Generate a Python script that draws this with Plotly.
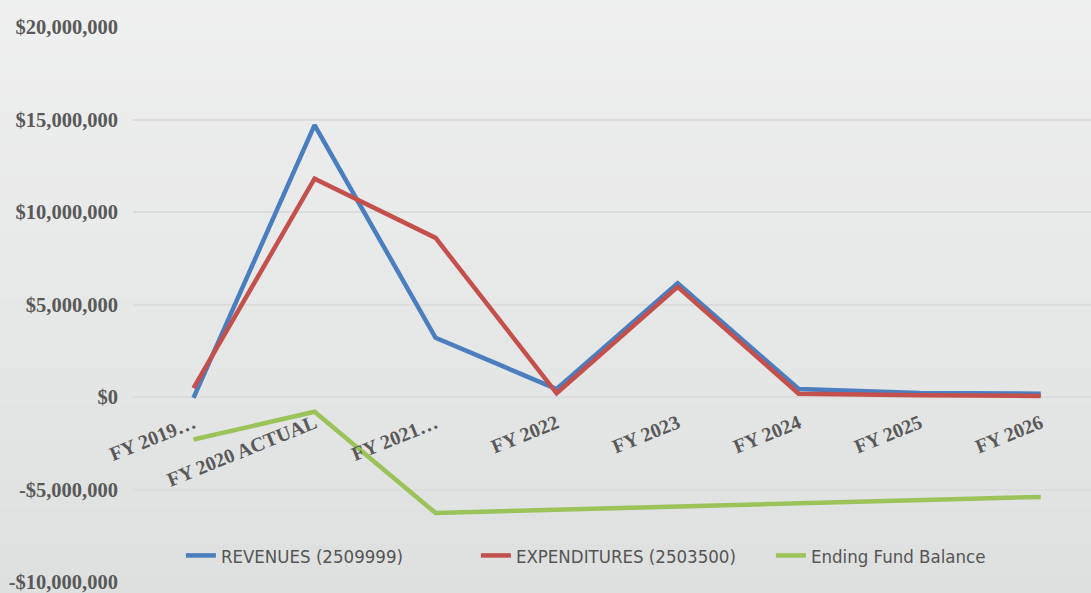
import plotly.graph_objects as go

# Fiscal years on the category axis
years = ["FY 2019…", "FY 2020 ACTUAL", "FY 2021…", "FY 2022", "FY 2023",
         "FY 2024", "FY 2025", "FY 2026"]

# Series values (dollars)
revenues = [-50_000, 14_700_000, 3_200_000, 430_000, 6_150_000, 430_000, 220_000, 180_000]
expenditures = [480_000, 11_800_000, 8_600_000, 200_000, 5_950_000, 180_000, 100_000, 60_000]
ending_balance = [-2_300_000, -800_000, -6_270_000, -6_100_000, -5_900_000, -5_700_000,
                  -5_530_000, -5_400_000]

# Value axis ticks
y_ticks = [-10_000_000, -5_000_000, 0, 5_000_000, 10_000_000, 15_000_000, 20_000_000]
y_tick_text = ["-$10,000,000", "-$5,000,000", "$0", "$5,000,000", "$10,000,000",
               "$15,000,000", "$20,000,000"]

series_names = ["REVENUES (2509999)", "EXPENDITURES (2503500)", "Ending Fund Balance"]
colors = ["#4a7ebf", "#c4504d", "#9bc35a"]

y_min, y_max = y_ticks[0], y_ticks[-1]

fig = go.Figure()
for name, vals, col in zip(series_names, [revenues, expenditures, ending_balance], colors):
    fig.add_trace(go.Scatter(
        x=years, y=vals, name=name, mode="lines",
        line=dict(color=col, width=4.5),
    ))

# Soft vertical background gradient built from thin bands
bands = 40
top_rgb = (240, 240, 240)
bot_rgb = (220, 222, 222)
shapes = []
for i in range(bands):
    t = i / (bands - 1)
    r = round(top_rgb[0] + (bot_rgb[0] - top_rgb[0]) * t)
    g = round(top_rgb[1] + (bot_rgb[1] - top_rgb[1]) * t)
    b = round(top_rgb[2] + (bot_rgb[2] - top_rgb[2]) * t)
    shapes.append(dict(
        type="rect", xref="paper", yref="paper", layer="below",
        x0=-0.2, x1=1.05, y0=1.1 - (i + 1) * 1.25 / bands, y1=1.1 - i * 1.25 / bands + 0.001,
        fillcolor=f"rgb({r},{g},{b})", line=dict(width=0),
    ))

# Category axis sits on the zero line
zero_pos = (0 - y_min) / (y_max - y_min)

serif = "Liberation Serif"
narrow = "Arial Narrow, Liberation Sans Narrow, DejaVu Sans Condensed, Roboto Condensed, Roboto"

fig.update_layout(
    width=1091, height=593,
    margin=dict(l=133, r=0, t=27, b=11),
    paper_bgcolor="#e9e9e9",
    plot_bgcolor="rgba(0,0,0,0)",
    shapes=shapes,
    showlegend=True,
    legend=dict(
        orientation="h", x=0.05, y=0.047, xanchor="left", yanchor="middle",
        font=dict(family=narrow, size=18.5, color="#555555"),
        bgcolor="rgba(0,0,0,0)", itemwidth=30,
        entrywidth=250, entrywidthmode="pixels",
        traceorder="normal",
    ),
    xaxis=dict(
        type="category", range=[-0.5, 7.415],
        anchor="free", position=zero_pos,
        showgrid=False, showline=False, zeroline=False, ticks="",
        tickangle=-22, ticklabelstandoff=10,
        tickfont=dict(family=serif, size=20, color="#595959", weight="bold"),
    ),
    yaxis=dict(
        range=[y_min, y_max],
        tickvals=y_ticks, ticktext=y_tick_text,
        showgrid=True, gridcolor="#dcdcdc", gridwidth=1.5,
        zeroline=False, showline=False, ticks="",
        ticklabelstandoff=14, ticklabeloverflow="allow",
        tickfont=dict(family=serif, size=20.5, color="#595959", weight="bold"),
    ),
)

fig.write_html("out.html")
